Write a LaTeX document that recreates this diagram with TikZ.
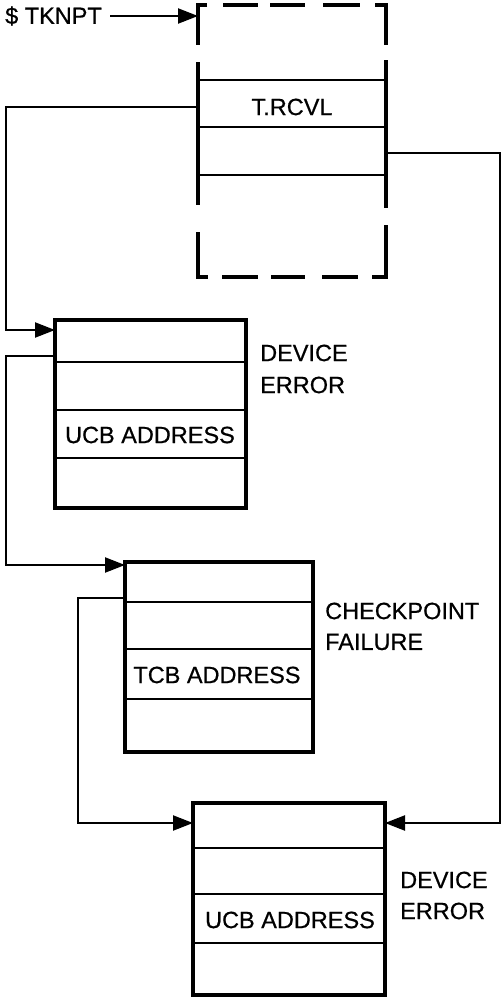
\documentclass[tikz,border=0pt]{standalone}
\usepackage{fontspec}
\setmainfont[FakeBold=0.6]{Liberation Sans}
\usetikzlibrary{arrows.meta}
\begin{document}
\begin{tikzpicture}[x=1pt,y=-1pt,
  blk/.style={draw, line width=3.5pt, inner sep=0pt, outer sep=0pt, anchor=north west},
  ghost/.style={inner sep=0pt, outer sep=0pt, anchor=north west},
  dsh/.style={line width=3.5pt},
  sepline/.style={line width=2.4pt},
  conn/.style={line width=2.2pt},
  arr/.style={conn, -{Triangle[length=20pt,width=15pt]}},
  lbl/.style={font=\fontsize{23.5}{23.5}\selectfont, inner sep=0pt},
  lbll/.style={lbl, anchor=west}]
\useasboundingbox (0,0) rectangle (502,997);

% ---- top (dashed) block
\node[ghost, minimum width=188pt, minimum height=272pt] (tk) at (198,5) {};
\draw[dsh] (207,5) -- (198,5) -- (198,45);
\draw[dsh] (223,5) -- (258,5);
\draw[dsh] (270,5) -- (305,5);
\draw[dsh] (323,5) -- (360,5);
\draw[dsh] (375,5) -- (386,5) -- (386,45);
\draw[dsh] (198,62) -- (198,205);
\draw[dsh] (386,60) -- (386,208);
\draw[dsh] (198,232) -- (198,277) -- (208,277);
\draw[dsh] (222,277) -- (258,277);
\draw[dsh] (271,277) -- (305,277);
\draw[dsh] (322,277) -- (358,277);
\draw[dsh] (372,277) -- (386,277) -- (386,225);
\draw[sepline] (198,80) -- (386,80);
\draw[sepline] (198,127) -- (386,127);
\draw[sepline] (198,175) -- (386,175);
\node[lbl] (trcvl) at (292,107) {T.RCVL};

\node[lbl, anchor=west] (tknpt) at (5,16) {\$ TKNPT};
\draw[arr] (tknpt.east) ++(8,0) coordinate (tkstart) -- (tkstart -| tk.west);

% ---- block 1
\node[blk, minimum width=191pt, minimum height=188pt] (b1) at (55,320) {};
\draw[sepline] (55,362) -- (246,362);
\draw[sepline] (55,410) -- (246,410);
\draw[sepline] (55,458) -- (246,458);
\node[lbl] (ucb1) at (150,435) {UCB ADDRESS};
\node[lbll] (dev1) at (260,353) {DEVICE};
\node[lbll] (err1) at (260,385) {ERROR};

% ---- block 2
\node[blk, minimum width=188pt, minimum height=190pt] (b2) at (125,562) {};
\draw[sepline] (125,602) -- (313,602);
\draw[sepline] (125,649) -- (313,649);
\draw[sepline] (125,699) -- (313,699);
\node[lbl] (tcb2) at (217,675) {TCB ADDRESS};
\node[lbll] (chk2) at (325,611) {CHECKPOINT};
\node[lbll] (fail2) at (325,642) {FAILURE};

% ---- block 3
\node[blk, minimum width=192pt, minimum height=192pt] (b3) at (193,803) {};
\draw[sepline] (193,848) -- (385,848);
\draw[sepline] (193,894) -- (385,894);
\draw[sepline] (193,943) -- (385,943);
\node[lbl] (ucb3) at (290,920) {UCB ADDRESS};
\node[lbll] (dev3) at (400,880) {DEVICE};
\node[lbll] (err3) at (400,911) {ERROR};

% ---- connectors
\coordinate (c1a) at (6,107);
\coordinate (c1b) at (6,330);
\draw[arr] (trcvl -| tk.west) -- (c1a) -- (c1b) -- (c1b -| b1.west);

\coordinate (c2a) at (500,153);
\coordinate (c2b) at (500,823);
\draw[arr] (c2a -| tk.east) -- (c2a) -- (c2b) -- (c2b -| b3.east);

\coordinate (c3a) at (6,356);
\coordinate (c3b) at (6,565);
\draw[arr] (c3a -| b1.west) -- (c3a) -- (c3b) -- (c3b -| b2.west);

\coordinate (c4a) at (78,598);
\coordinate (c4b) at (78,823);
\draw[arr] (c4a -| b2.west) -- (c4a) -- (c4b) -- (c4b -| b3.west);
\end{tikzpicture}
\end{document}
